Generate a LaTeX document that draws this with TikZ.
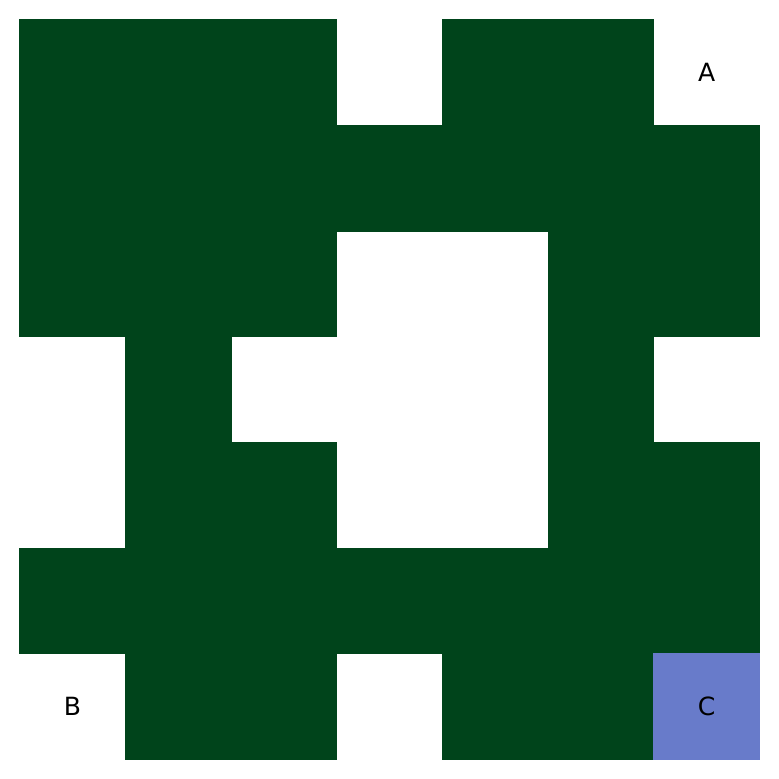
\documentclass[tikz,border=0pt]{standalone}
\usepackage{fontspec}
\setmainfont{DejaVu Sans}
\definecolor{wallgreen}{HTML}{00441B}
\definecolor{goalblue}{HTML}{687BCA}
\tikzstyle{every node}=[font=\fontsize{13.5}{16}\selectfont]
\tikzstyle{wall}=[fill=wallgreen,draw=wallgreen,line width=0.3pt]
\tikzstyle{goal}=[fill=goalblue,draw=goalblue,line width=0.3pt]

\begin{document}
\begin{tikzpicture}[x=2cm,y=2cm]
%Maze grid
	\newcommand\rows{6} %top row index, rows counted from the top
	\useasboundingbox (-0.185,-0.185) rectangle (7.185,7.185);
	%% green cells, row by row: row/{columns}
	\foreach \r/\cols in {0/{0,1,2,4,5},1/{0,1,2,3,4,5,6},2/{0,1,2,5,6},3/{1,5},4/{1,2,5,6},5/{0,1,2,3,4,5,6},6/{1,2,4,5}}{
		\foreach \c in \cols
			\path[wall] (\c,\rows-\r) rectangle ++(1,1);
	}
	%% blue cell in the bottom right corner
	\path[goal] (6,0) rectangle ++(1,1);
	%labels
	\node (A) at (6.5,6.5) {A};
	\node (B) at (0.5,0.5) {B};
	\node (C) at (6.5,0.5) {C};
\end{tikzpicture}
\end{document}
